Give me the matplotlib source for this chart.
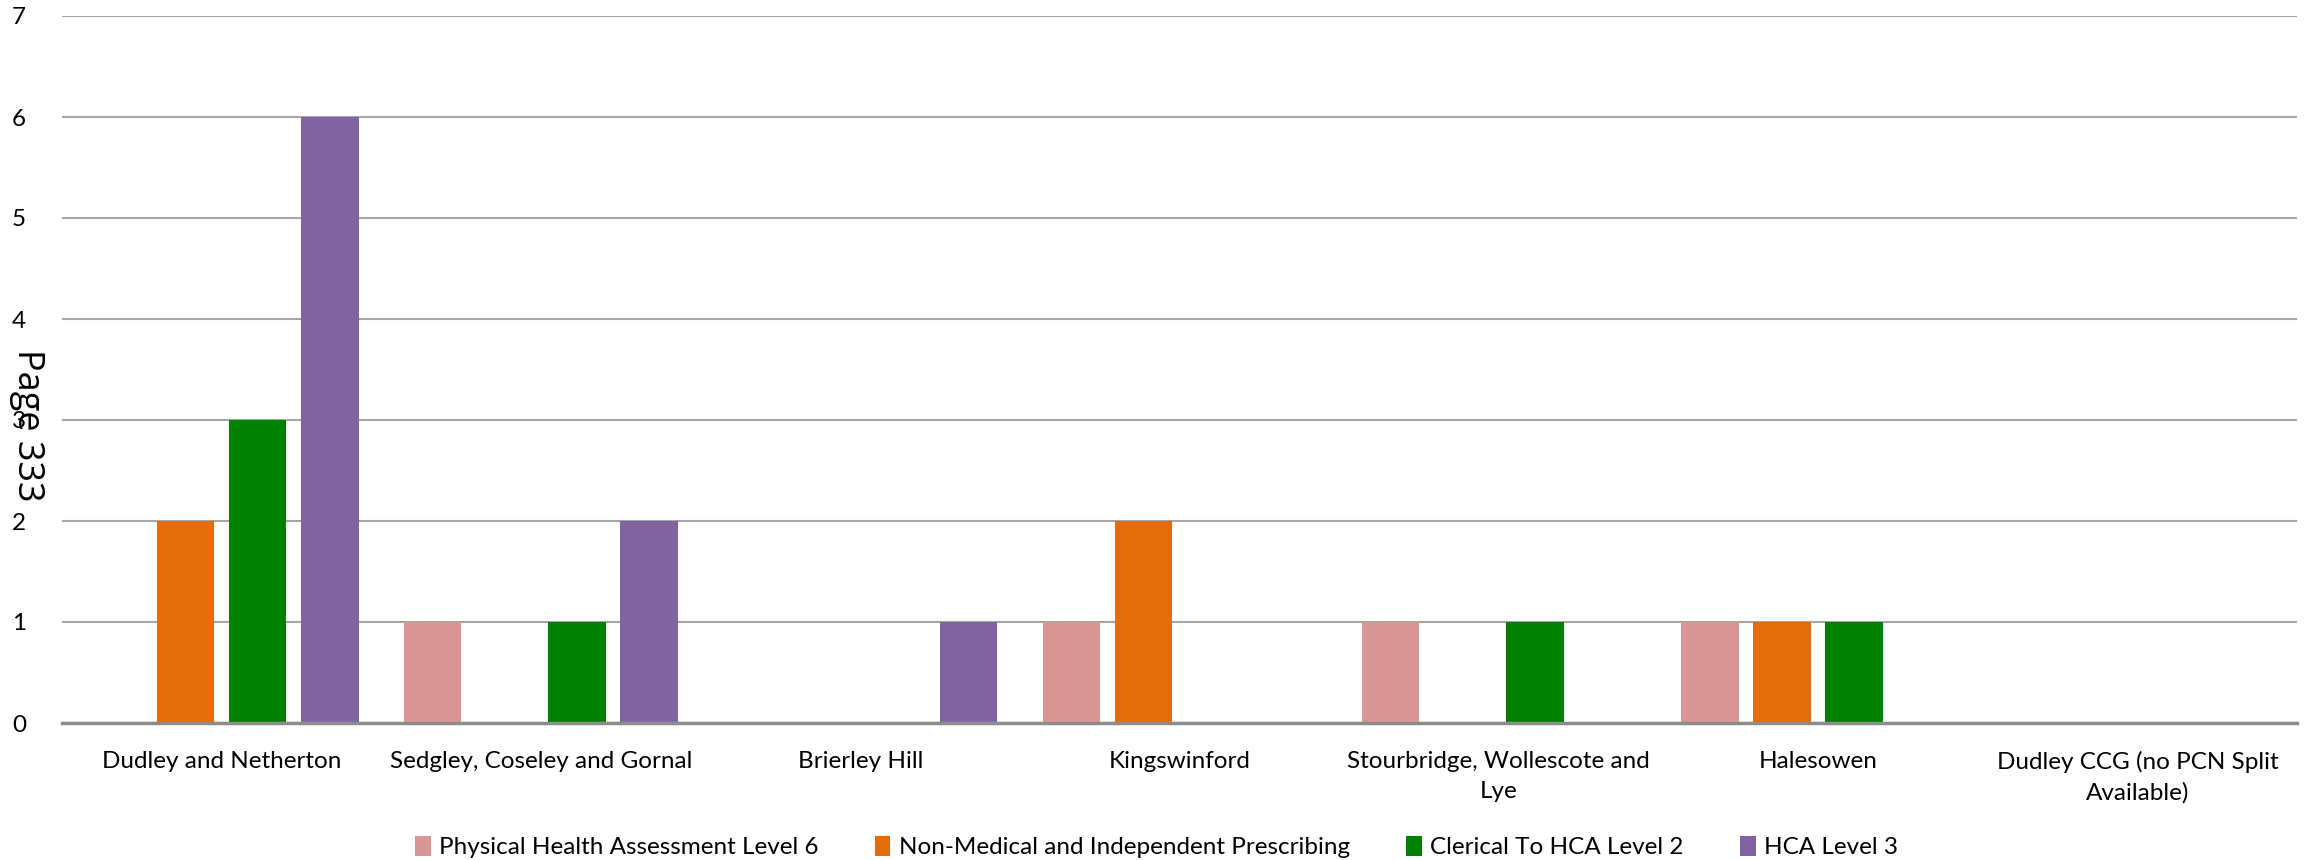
import matplotlib.pyplot as plt
import numpy as np

plt.rcParams['font.family'] = ['Lato', 'DejaVu Sans']

categories = ['Dudley and Netherton', 'Sedgley, Coseley and Gornal', 'Brierley Hill',
              'Kingswinford', 'Stourbridge, Wollescote and\nLye', 'Halesowen',
              'Dudley CCG (no PCN Split\nAvailable)']
series = ['Physical Health Assessment Level 6', 'Non-Medical and Independent Prescribing',
          'Clerical To HCA Level 2', 'HCA Level 3']
phys = [0, 1, 0, 1, 1, 1, 0]
nonmed = [2, 0, 0, 2, 0, 1, 0]
clerical = [3, 1, 0, 0, 1, 1, 0]
hca3 = [6, 2, 1, 0, 0, 0, 0]
colors = ['#D99694', '#E46C0A', '#008000', '#8064A2']

fig = plt.figure(figsize=(23.13, 8.6), dpi=100)
ax = fig.add_axes([62 / 2313, 1 - 723 / 860, (2297 - 62) / 2313, (723 - 16) / 860])

x = np.arange(len(categories))
width = 0.18
step = 0.226
for i, (vals, name) in enumerate(zip([phys, nonmed, clerical, hca3], series)):
    ax.bar(x + (i - 1.5) * step, vals, width=width, color=colors[i], label=name, zorder=3)

ax.set_xlim(-0.5, len(categories) - 0.5)
ax.set_ylim(0, 7)
ax.set_yticks(range(8))
ax.yaxis.grid(True, color='#A6A6A6', linewidth=1.5, zorder=0)
for s in ['top', 'right', 'left']:
    ax.spines[s].set_visible(False)
ax.spines['bottom'].set_color('#8C8C8C')
ax.spines['bottom'].set_linewidth(2.5)
ax.spines['bottom'].set_zorder(4)
ax.tick_params(axis='y', length=0, pad=36, labelsize=17.5)
ax.tick_params(axis='x', length=0, pad=20, labelsize=17.5)
ax.set_xticks(x)
ax.set_xticklabels(categories, linespacing=1.55)
for lbl in ax.get_yticklabels():
    lbl.set_horizontalalignment('left')

fig.legend(loc='center', bbox_to_anchor=(0.5, 1 - 847 / 860), ncol=4, frameon=False,
           fontsize=17.5, handlelength=0.65, handleheight=0.9, handletextpad=0.35,
           columnspacing=2.3)

fig.text(27 / 2313, 1 - 425 / 860, 'Page 333', rotation=-90, fontsize=26,
         ha='center', va='center', family=['Open Sans', 'DejaVu Sans'])

fig.savefig('out.png', dpi=100)
